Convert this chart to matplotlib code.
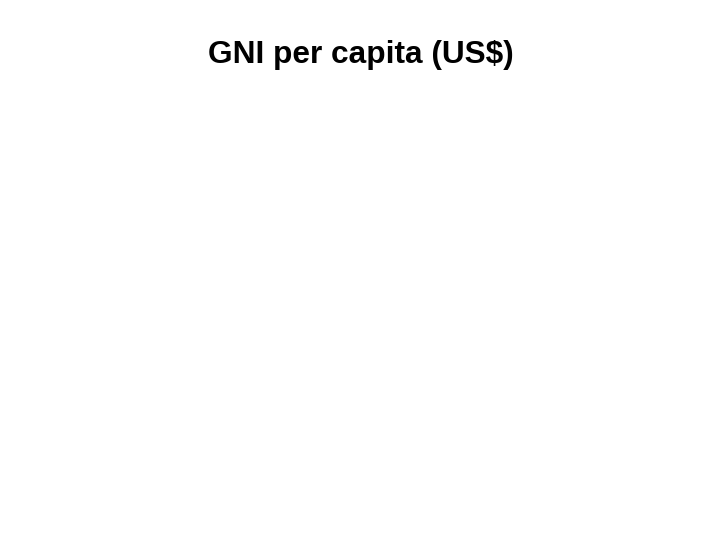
import matplotlib
matplotlib.use("Agg")
import matplotlib.pyplot as plt

title = "GNI per capita (US$)"

fig = plt.figure(figsize=(7.2, 5.4), dpi=100)
ax = fig.add_axes([0.05, 0.05, 0.9, 0.75])
ax.axis("off")
fig.text(0.5015, 0.884, title, ha="center", va="baseline",
         fontsize=22.8, fontweight="bold", family=["Liberation Sans", "DejaVu Sans"])
fig.savefig("out.png", dpi=100, facecolor="white")
